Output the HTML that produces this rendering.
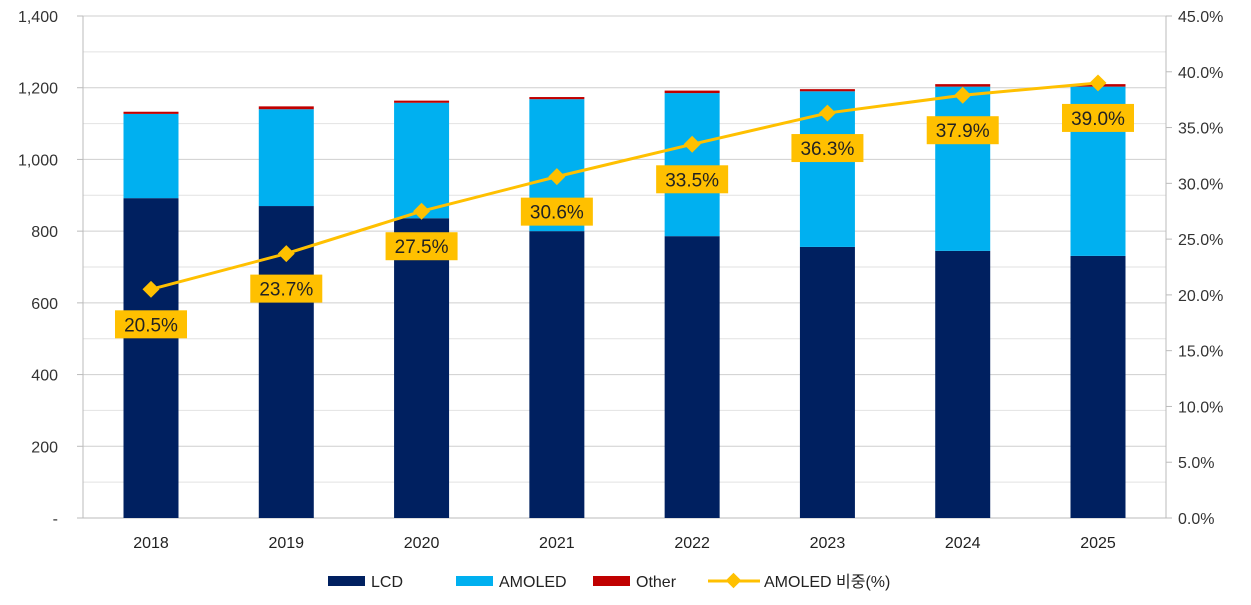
<!DOCTYPE html>
<html><head><meta charset="utf-8"><style>
body{margin:0;background:#fff;}
svg{display:block;font-family:"Liberation Sans","Noto Sans CJK KR",sans-serif;}
</style></head><body>
<svg id="chart" width="1251" height="605"></svg>
<script>
const categories=["2018","2019","2020","2021","2022","2023","2024","2025"];
const lcd=[892,870,836,800,786,756,745,731];
const amoled=[235,270,322,368,399,434,458,472];
const other=[6,8,6,6,7,6,7,7];
const share=[20.5,23.7,27.5,30.6,33.5,36.3,37.9,39.0];
const leftTicks=[0,200,400,600,800,1000,1200,1400];
const leftTickLabels=["-","200","400","600","800","1,000","1,200","1,400"];
const rightTicks=[0,5,10,15,20,25,30,35,40,45];

const NS="http://www.w3.org/2000/svg";
const svg=document.getElementById('chart');
const X0=83,X1=1166,Y0=518,Y1=16;
const yL=v=>Y0-(v/1400)*(Y0-Y1);
const yR=v=>Y0-(v/45)*(Y0-Y1);
const step=(1098-151)/7;
const xC=i=>151+i*step;
function el(tag,attrs,parent){const e=document.createElementNS(NS,tag);for(const k in attrs)e.setAttribute(k,attrs[k]);(parent||svg).appendChild(e);return e;}

for(let v=100;v<=1400;v+=100){
  const g=el('line',{x1:X0,x2:X1,y1:yL(v),y2:yL(v),stroke:v%200?'#e2e2e2':'#cfcfcf','stroke-width':1});
  
  
}
const la=el('line',{x1:X0,x2:X0,y1:Y1,y2:Y0,stroke:'#bbb'});


const ra=el('line',{x1:X1,x2:X1,y1:Y1,y2:Y0,stroke:'#bbb'});


const xa=el('line',{x1:X0,x2:X1,y1:Y0,y2:Y0,stroke:'#bbb'});



leftTicks.forEach((v,i)=>{
  const t=el('text',{x:58,y:yL(v)+6,'text-anchor':'end','font-size':16,fill:'#333'});
  t.textContent=leftTickLabels[i];
  
  
  el('line',{x1:X0-6,x2:X0,y1:yL(v),y2:yL(v),stroke:'#bbb'});
});
rightTicks.forEach(v=>{
  const t=el('text',{x:1178,y:yR(v)+6,'font-size':16,fill:'#333'});
  t.textContent=v.toFixed(1)+'%';
  
  
  el('line',{x1:X1,x2:X1+6,y1:yR(v),y2:yR(v),stroke:'#bbb'});
});

const BW=55;
categories.forEach((c,i)=>{
  const x=xC(i)-BW/2;
  const b1=el('rect',{x:x,y:yL(lcd[i]),width:BW,height:Y0-yL(lcd[i]),fill:'#002060'});
  
  
  const t2=lcd[i]+amoled[i];
  const b2=el('rect',{x:x,y:yL(t2),width:BW,height:yL(lcd[i])-yL(t2),fill:'#00b0f0'});
  
  
  const t3=t2+other[i];
  const b3=el('rect',{x:x,y:yL(t3),width:BW,height:yL(t2)-yL(t3),fill:'#c00000'});
  
  
  const t=el('text',{x:xC(i),y:548,'text-anchor':'middle','font-size':16,fill:'#222'});
  t.textContent=c;
  
  
});

const pts=share.map((v,i)=>xC(i)+','+yR(v)).join(' ');
const line=el('polyline',{points:pts,fill:'none',stroke:'#ffc000','stroke-width':3});


share.forEach((v,i)=>{
  const x=xC(i),y=yR(v);
  const m=el('rect',{x:x-6,y:y-6,width:12,height:12,fill:'#ffc000',transform:`rotate(45 ${x} ${y})`});
  
  
  const ly=y+35;
  const box=el('rect',{x:x-36,y:ly-14,width:72,height:28,fill:'#ffc000'});
  
  
  const t=el('text',{x:x,y:ly+7,'text-anchor':'middle','font-size':19,fill:'#222'});
  t.textContent=v.toFixed(1)+'%';
  
  
});

// legend
const leg=[["LCD","#002060",328],["AMOLED","#00b0f0",456],["Other","#c00000",593]];
leg.forEach(l=>{
  const r=el('rect',{x:l[2],y:576,width:37,height:10,fill:l[1]});
  
  
  const t=el('text',{x:l[2]+43,y:587,'font-size':16,fill:'#222'});
  t.textContent=l[0];
  
  
});
const ll=el('line',{x1:708,x2:760,y1:581,y2:581,stroke:'#ffc000','stroke-width':3});


el('rect',{x:728,y:575,width:11,height:11,fill:'#ffc000',transform:'rotate(45 733.5 580.5)'});
const lt=el('text',{x:764,y:587,'font-size':16,fill:'#222'});
lt.textContent='AMOLED 비중(%)';


</script>
</body></html>
